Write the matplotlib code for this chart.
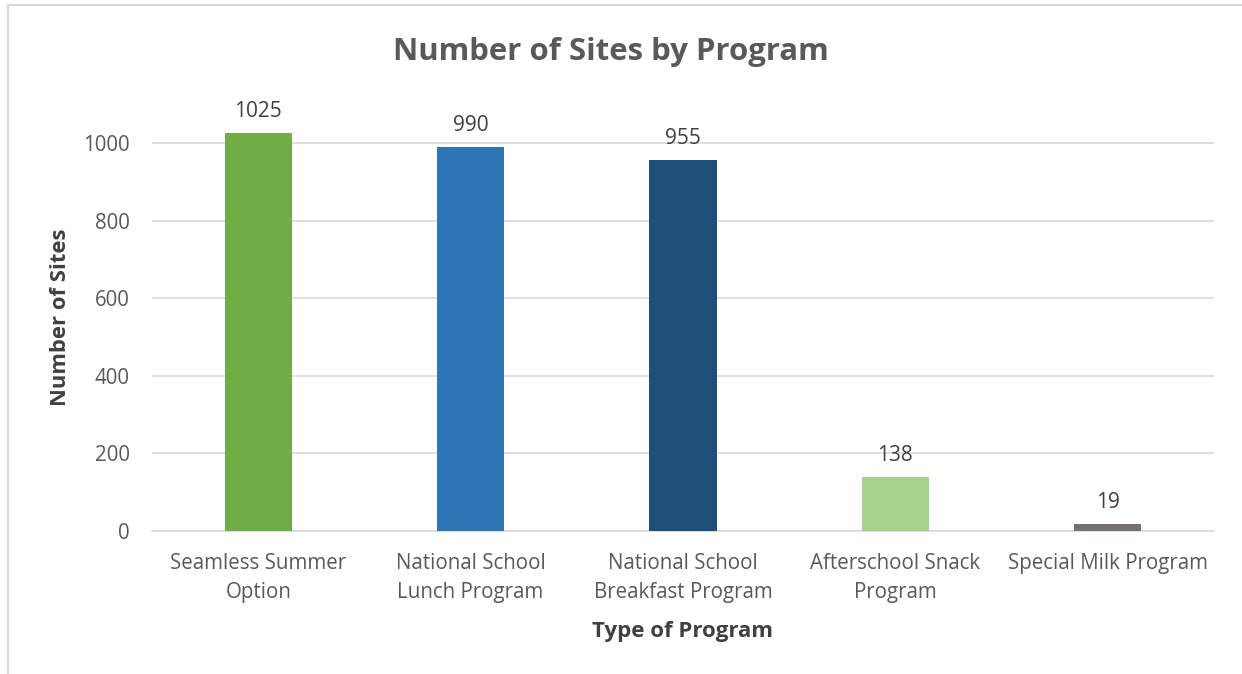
import matplotlib
matplotlib.use("Agg")
import matplotlib.pyplot as plt
from matplotlib.lines import Line2D

categories = ["Seamless Summer\nOption", "National School\nLunch Program",
              "National School\nBreakfast Program", "Afterschool Snack\nProgram",
              "Special Milk Program"]
values = [1025, 990, 955, 138, 19]
colors = ["#70AD47", "#2E75B6", "#1F4E79", "#A9D18E", "#767171"]
yticks = [0, 200, 400, 600, 800, 1000]

plt.rcParams['font.family'] = ['Open Sans', 'DejaVu Sans']
txt = "#595959"

W, H = 1242, 674
fig = plt.figure(figsize=(W/100, H/100), dpi=100)
left, right = 152/W, 1214/W
bottom, top = 1 - 531/H, 1 - (531 - 1100*0.388)/H
ax = fig.add_axes([left, bottom, right-left, top-bottom])

x = list(range(len(categories)))
bars = ax.bar(x, values, width=0.316, color=colors, zorder=3)
ax.set_xlim(-0.5, len(categories)-0.5)
ax.set_ylim(0, 1100)
ax.set_yticks(yticks)
ax.set_yticklabels([str(t) for t in yticks], fontsize=14.8, color=txt)
ax.set_xticks(x)
ax.set_xticklabels(categories, fontsize=14.8, color=txt, linespacing=1.5)
ax.tick_params(axis='both', length=0)
ax.tick_params(axis='x', pad=16)
ax.tick_params(axis='y', pad=16)
for s in ["top", "right", "left"]:
    ax.spines[s].set_visible(False)
ax.spines["bottom"].set_color("#D9D9D9")
ax.spines["bottom"].set_linewidth(1.2)
ax.grid(axis='y', color="#D9D9D9", linewidth=1.2, zorder=0)
ax.set_axisbelow(True)

for xi, v in zip(x, values):
    ax.annotate(str(v), (xi, v), xytext=(0, 8), textcoords="offset points",
                ha="center", va="bottom", fontsize=15, color="#404040")

fig.text(611/W, 1 - 52/H, "Number of Sites by Program", ha="center", va="center",
         fontsize=22.4, fontweight="bold", color=txt)
fig.text(60/W, 1 - 317/H, "Number of Sites", ha="center", va="center", rotation=90,
         fontsize=15.8, fontweight="bold", color="#404040")
fig.text(683/W, 1 - 631/H, "Type of Program", ha="center", va="center",
         fontsize=16, fontweight="bold", color="#404040")

fig.add_artist(Line2D([8/W, 8/W], [0, 1 - 5/H], color="#D9D9D9", linewidth=1.5))
fig.add_artist(Line2D([8/W, 1], [1 - 5/H, 1 - 5/H], color="#D9D9D9", linewidth=1.5))

fig.savefig("out.png", dpi=100)
